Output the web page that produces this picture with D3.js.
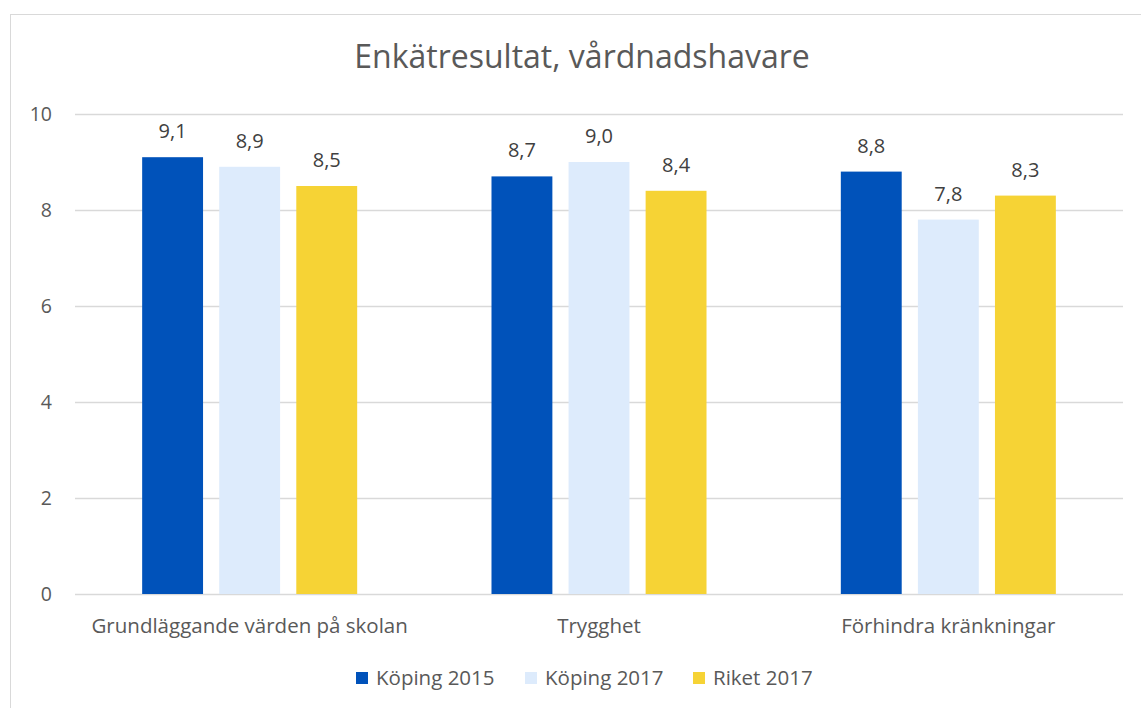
<!DOCTYPE html>
<html>
<head>
<meta charset="utf-8">
<script src="https://cdn.jsdelivr.net/npm/d3@7"></script>
<style>
  body { margin: 0; background: #fff; }
  svg { display: block; font-family: "Open Sans", Lato, sans-serif; }
</style>
</head>
<body>
<div id="chart"></div>
<script>
const categories = ["Grundläggande värden på skolan", "Trygghet", "Förhindra kränkningar"];
const seriesNames = ["Köping 2015", "Köping 2017", "Riket 2017"];
const koping2015 = [9.1, 8.7, 8.8];
const koping2017 = [8.9, 9.0, 7.8];
const riket2017 = [8.5, 8.4, 8.3];
const yTicks = [0, 2, 4, 6, 8, 10];
const colors = ["#0052BA", "#DDEBFC", "#F6D335"];

const title = "Enkätresultat, vårdnadshavare";
const width = 1141, height = 708;
const margin = {top: 114, right: 18, bottom: 114, left: 75};

const seriesValues = [koping2015, koping2017, riket2017];
const data = categories.map((c, i) => ({
    name: c,
    values: seriesNames.map((s, j) => ({series: s, value: seriesValues[j][i], idx: j}))
}));

const sv = d3.formatLocale({decimal: ",", thousands: " ", grouping: [3], currency: ["", " kr"]});
const fmt = sv.format(".1f");

const svg = d3.select("#chart")
    .append("svg")
    .attr("width", width)
    .attr("height", height);

// chart frame
svg.append("rect")
    .attr("x", 10.5)
    .attr("y", 14.5)
    .attr("width", 1200)
    .attr("height", 800)
    .attr("fill", "#fff")
    .attr("stroke", "#d9d9d9")
    .attr("stroke-width", 1);

const x0 = d3.scaleBand()
    .domain(categories)
    .range([margin.left, width - margin.right])
    .paddingInner(0.3845)
    .paddingOuter(0.3845 / 2);

const x1 = d3.scaleBand()
    .domain(seriesNames)
    .range([0, x0.bandwidth()])
    .paddingInner(0.21);

const y = d3.scaleLinear()
    .domain([0, 10])
    .range([height - margin.bottom, margin.top]);

// gridlines + ticks
const yAxis = svg.append("g")
    .attr("transform", `translate(${margin.left},0)`)
    .call(d3.axisLeft(y).tickValues(yTicks).tickSize(-(width - margin.left - margin.right)).tickPadding(23));
yAxis.select(".domain").remove();
yAxis.selectAll(".tick line").attr("stroke", "#d9d9d9").attr("stroke-width", 1.3);
yAxis.selectAll(".tick text")
    .attr("fill", "#595959")
    .attr("font-size", "19.5px")
    .attr("font-family", "'Open Sans', sans-serif");

// bars
const group = svg.append("g").selectAll("g")
    .data(data)
    .join("g")
    .attr("transform", d => `translate(${x0(d.name)},0)`);

group.selectAll("rect")
    .data(d => d.values)
    .join("rect")
    .attr("x", d => x1(d.series))
    .attr("y", d => y(d.value))
    .attr("width", x1.bandwidth())
    .attr("height", d => y(0) - y(d.value))
    .attr("fill", d => colors[d.idx]);

group.selectAll("text")
    .data(d => d.values)
    .join("text")
    .attr("x", d => x1(d.series) + x1.bandwidth() / 2)
    .attr("y", d => y(d.value) - 19)
    .attr("text-anchor", "middle")
    .attr("fill", "#404040")
    .attr("font-size", "20px")
    .text(d => fmt(d.value));

// category labels
svg.append("g").selectAll("text")
    .data(categories)
    .join("text")
    .attr("x", d => x0(d) + x0.bandwidth() / 2)
    .attr("y", height - margin.bottom + 39)
    .attr("text-anchor", "middle")
    .attr("fill", "#595959")
    .attr("font-size", "20.5px")
    .text(d => d);

// title
svg.append("text")
    .attr("x", 582)
    .attr("y", 68)
    .attr("text-anchor", "middle")
    .attr("fill", "#595959")
    .attr("font-size", "32px")
    .text(title);

// legend
const legendX = [356, 525, 693];
const legend = svg.append("g").selectAll("g")
    .data(seriesNames)
    .join("g")
    .attr("transform", (d, i) => `translate(${legendX[i]},672)`);
legend.append("rect")
    .attr("width", 12)
    .attr("height", 12)
    .attr("fill", (d, i) => colors[i]);
legend.append("text")
    .attr("x", 20)
    .attr("y", 13)
    .attr("fill", "#595959")
    .attr("font-size", "20.5px")
    .text(d => d);
</script>
</body>
</html>
